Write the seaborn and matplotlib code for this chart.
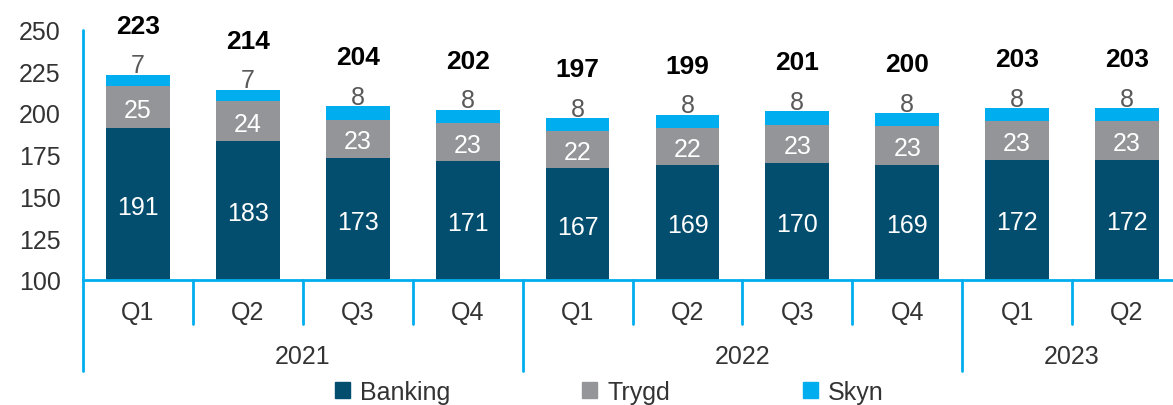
import pandas as pd
import matplotlib.pyplot as plt
import seaborn as sns
from matplotlib.patches import Patch
from matplotlib.lines import Line2D
import matplotlib.transforms as mtransforms

# Data
years = ["2021", "2021", "2021", "2021", "2022", "2022", "2022", "2022", "2023", "2023"]
quarters = ["Q1", "Q2", "Q3", "Q4", "Q1", "Q2", "Q3", "Q4", "Q1", "Q2"]
banking = [191, 183, 173, 171, 167, 169, 170, 169, 172, 172]
trygd = [25, 24, 23, 23, 22, 22, 23, 23, 23, 23]
skyn = [7, 7, 8, 8, 8, 8, 8, 8, 8, 8]
totals = [223, 214, 204, 202, 197, 199, 201, 200, 203, 203]

NAVY = "#034E6E"
GREY = "#939598"
BLUE = "#00AEEF"
TXT = "#333333"
FS = 18

df = pd.DataFrame({"year": years, "quarter": quarters,
                   "banking": banking, "trygd": trygd, "skyn": skyn})
df["period"] = df["year"] + " " + df["quarter"]
df["bt"] = df["banking"] + df["trygd"]
df["total"] = df["bt"] + df["skyn"]

sns.set_style("white")
plt.rcParams["font.family"] = ["Liberation Sans", "DejaVu Sans"]

fig = plt.figure(figsize=(11.73, 4.06), dpi=100)
ax = fig.add_axes([83 / 1173, 125 / 406, 1099 / 1173, 250.5 / 406])

bw = 0.58
# stacked look: draw cumulative bars on top of each other
sns.barplot(data=df, x="period", y="total", color=BLUE, width=bw, linewidth=0, saturation=1, ax=ax)
sns.barplot(data=df, x="period", y="bt", color=GREY, width=bw, linewidth=0, saturation=1, ax=ax)
sns.barplot(data=df, x="period", y="banking", color=NAVY, width=bw, linewidth=0, saturation=1, ax=ax)

ax.set_ylim(100, 250)
ax.set_xlim(-0.5, 9.5)
ax.set_yticks(range(100, 251, 25))
ax.tick_params(axis="y", length=0, pad=16, labelsize=FS, labelcolor=TXT)
ax.set_xticks([])
ax.set_xlabel("")
ax.set_ylabel("")

for s in ["top", "right", "left"]:
    ax.spines[s].set_visible(False)
ax.spines["bottom"].set_color(BLUE)
ax.spines["bottom"].set_linewidth(2)

# value labels
for i, row in df.iterrows():
    ax.text(i, (100 + row["banking"]) / 2, str(row["banking"]), ha="center", va="center_baseline",
            color="white", fontsize=FS)
    ax.text(i, row["banking"] + row["trygd"] / 2, str(row["trygd"]), ha="center",
            va="center_baseline", color="white", fontsize=FS)
    ax.annotate(str(row["skyn"]), (i, row["total"]), xytext=(0, 8.5), textcoords="offset points",
                ha="center", va="center_baseline", color="#595959", fontsize=FS)
    ax.annotate(str(totals[i]), (i, row["total"]), xytext=(0, 37), textcoords="offset points",
                ha="center", va="center_baseline", color="black", fontsize=19, fontweight="bold",
                annotation_clip=False)

# two-level category axis
trans = mtransforms.blended_transform_factory(ax.transData, ax.transAxes)
ax.add_line(Line2D([0, 0], [1, -0.363], transform=ax.transAxes, color=BLUE, lw=2, clip_on=False))
for k in range(1, 10):
    bottom = -0.363 if years[k] != years[k - 1] else -0.176
    ax.add_line(Line2D([k - 0.5, k - 0.5], [0, bottom], transform=trans, color=BLUE, lw=2,
                       clip_on=False))
for i, q in enumerate(quarters):
    ax.text(i, -0.116, q, transform=trans, ha="center", va="center_baseline", fontsize=FS, color=TXT)
for y in ["2021", "2022", "2023"]:
    idx = [i for i, v in enumerate(years) if v == y]
    ax.text(sum(idx) / len(idx), -0.295, y, transform=trans, ha="center", va="center_baseline",
            fontsize=FS, color=TXT)

handles = [Patch(color=NAVY, label="Banking"), Patch(color=GREY, label="Trygd"),
           Patch(color=BLUE, label="Skyn")]
fig.legend(handles=handles, loc="center", bbox_to_anchor=(609 / 1173, 1 - 393 / 406), ncol=3,
           frameon=False, fontsize=FS, handlelength=0.6, handleheight=0.6, handletextpad=0.4,
           columnspacing=5.3, labelcolor=TXT, borderaxespad=0, borderpad=0)

plt.savefig("out.png", dpi=100)
plt.close()
